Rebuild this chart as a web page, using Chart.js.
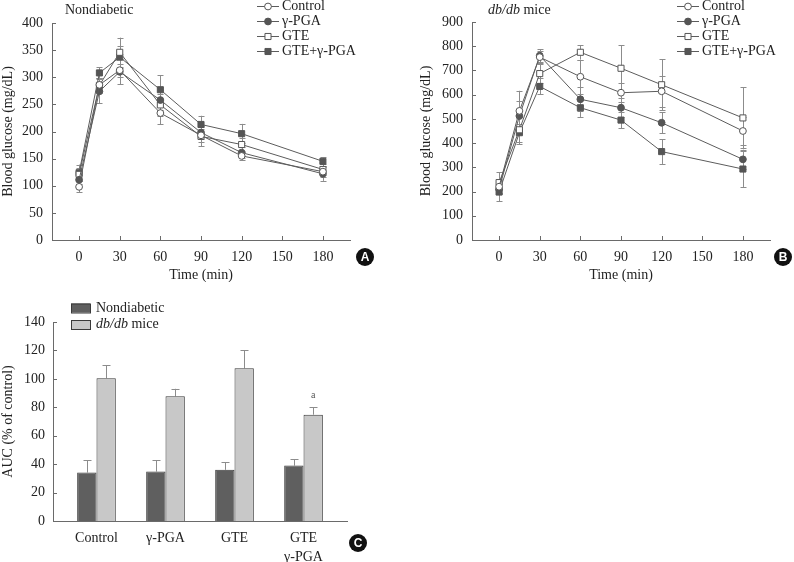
<!DOCTYPE html>
<html>
<head>
<meta charset="utf-8">
<script src="https://cdn.jsdelivr.net/npm/chart.js@4.4.0/dist/chart.umd.min.js"></script>
<style>
  body { margin: 0; background: #fff; }
  #wrap { position: relative; width: 794px; height: 562px; overflow: hidden; }
  canvas { position: absolute; }
  .badge {
    position: absolute; width: 18px; height: 18px; border-radius: 50%;
    background: #111; color: #fff; font: bold 12px 'Liberation Sans', Arial, sans-serif;
    text-align: center; line-height: 18px;
  }
</style>
</head>
<body>
<div id="wrap">
  <canvas id="chartA" width="400" height="282" style="left:0;top:0"></canvas>
  <canvas id="chartB" width="394" height="282" style="left:400px;top:0"></canvas>
  <canvas id="chartC" width="400" height="280" style="left:0;top:282px"></canvas>
  <div class="badge" style="left:356px;top:248px">A</div>
  <div class="badge" style="left:774px;top:248px">B</div>
  <div class="badge" style="left:349px;top:534px">C</div>
</div>
<script>
// time points and series names shared by panels A and B
const timePoints = [0, 15, 30, 60, 90, 120, 180];
const timeTicks = [0, 30, 60, 90, 120, 150, 180];
const seriesNames = ['Control', 'γ-PGA', 'GTE', 'GTE+γ-PGA'];

// A: nondiabetic mice, blood glucose (mg/dL)
const ndControl = [98, 286, 313, 234, 193, 155, 126];
const ndPga = [111, 274, 310, 258, 198, 161, 122];
const ndGte = [121, 285, 346, 249, 191, 176, 130];
const ndGtePga = [124, 308, 337, 277, 213, 196, 145];
const ndControlErr = [10, 12, 12, 21, 12, 8, 10];
const ndPgaErr = [8, 22, 23, 18, 12, 10, 13];
const ndGteErr = [12, 14, 27, 20, 18, 12, 10];
const ndGtePgaErr = [15, 10, 20, 27, 16, 18, 8];

// B: db/db mice, blood glucose (mg/dL)
const dbControl = [220, 533, 755, 674, 608, 614, 450];
const dbPga = [210, 512, 761, 581, 546, 484, 333];
const dbGte = [237, 455, 687, 775, 709, 641, 504];
const dbGtePga = [198, 443, 634, 546, 495, 365, 293];
const dbControlErr = [25, 83, 25, 70, 40, 63, 58];
const dbPgaErr = [20, 60, 27, 50, 40, 44, 40];
const dbGteErr = [42, 60, 40, 30, 96, 105, 126];
const dbGtePgaErr = [37, 37, 33, 38, 33, 51, 74];

// C: AUC (% of control)
const aucGroups = ['Control', 'γ-PGA', 'GTE', ['GTE', 'γ-PGA']];
const aucNondiabetic = [34.1, 34.8, 36.0, 39.0];
const aucNondiabeticErr = [8.5, 7.8, 5.2, 4.3];
const aucDbdb = [100.5, 87.8, 107.5, 74.8];
const aucDbdbErr = [9, 5.2, 12.7, 5.2];
const sigMarks = [{ dataset: 1, index: 3, text: 'a' }];

const serif = "'Liberation Serif', 'DejaVu Serif', serif";
const axisColor = '#6a6a6a';
const textColor = '#222';
const lineColor = '#5c5c5c';
const markColor = '#555';
const errColor = '#8c8c8c';
const tickFont = { family: serif, size: 14 };

// error bars, drawn under the markers
const errorBars = {
  id: 'errorBars',
  beforeDatasetsDraw(chart) {
    const ctx = chart.ctx;
    const yScale = chart.scales.y;
    ctx.save();
    ctx.strokeStyle = errColor;
    ctx.lineWidth = 1;
    chart.data.datasets.forEach((ds, di) => {
      if (!ds.errors) return;
      const meta = chart.getDatasetMeta(di);
      meta.data.forEach((el, i) => {
        const v = ds.data[i].y !== undefined ? ds.data[i].y : ds.data[i];
        const e = ds.errors[i];
        const x = Math.round(el.x) + 0.5;
        const top = yScale.getPixelForValue(v + e);
        const bot = ds.errorUpOnly ? yScale.getPixelForValue(v) : yScale.getPixelForValue(v - e);
        const cap = ds.errorCap || 3;
        ctx.beginPath();
        ctx.moveTo(x, top); ctx.lineTo(x, bot);
        ctx.moveTo(x - cap, Math.round(top) + 0.5); ctx.lineTo(x + cap, Math.round(top) + 0.5);
        if (!ds.errorUpOnly) {
          ctx.moveTo(x - cap, Math.round(bot) + 0.5); ctx.lineTo(x + cap, Math.round(bot) + 0.5);
        }
        ctx.stroke();
      });
    });
    ctx.restore();
  }
};

// tick marks pointing into the plot
const innerTicks = {
  id: 'innerTicks',
  afterDraw(chart, args, opts) {
    const ctx = chart.ctx;
    const a = chart.chartArea;
    ctx.save();
    ctx.strokeStyle = axisColor;
    ctx.lineWidth = 1;
    ctx.beginPath();
    if (opts.y) {
      chart.scales.y.ticks.forEach(t => {
        const py = Math.round(chart.scales.y.getPixelForValue(t.value)) + 0.5;
        ctx.moveTo(a.left, py); ctx.lineTo(a.left + 4, py);
      });
    }
    if (opts.x) {
      chart.scales.x.ticks.forEach(t => {
        const px = Math.round(chart.scales.x.getPixelForValue(t.value)) + 0.5;
        ctx.moveTo(px, a.bottom); ctx.lineTo(px, a.bottom - 4);
      });
    }
    ctx.stroke();
    ctx.restore();
  }
};

function drawMarker(ctx, ds, x, y) {
  ctx.fillStyle = ds.pointBackgroundColor;
  ctx.strokeStyle = ds.pointBorderColor;
  ctx.lineWidth = 1;
  ctx.beginPath();
  if (ds.pointStyle === 'rect') {
    const s = ds.pointRadius * Math.SQRT2 / 2;
    ctx.rect(x - s, y - s, s * 2, s * 2);
  } else {
    ctx.arc(x, y, ds.pointRadius, 0, Math.PI * 2);
  }
  ctx.fill();
  ctx.stroke();
}

// legend with a line through each marker, plus the panel label
const sideLegend = {
  id: 'sideLegend',
  afterDraw(chart, args, opts) {
    const ctx = chart.ctx;
    ctx.save();
    ctx.font = '14px ' + serif;
    ctx.textBaseline = 'middle';
    chart.data.datasets.forEach((ds, i) => {
      const y = opts.y + i * opts.dy;
      if (opts.boxes) {
        ctx.fillStyle = ds.backgroundColor;
        ctx.strokeStyle = ds.borderColor;
        ctx.lineWidth = 1;
        ctx.fillRect(opts.x, y - 4.5, 19, 9);
        ctx.strokeRect(opts.x + 0.5, y - 4, 19, 9);
      } else {
        ctx.strokeStyle = lineColor;
        ctx.lineWidth = 1;
        ctx.beginPath();
        ctx.moveTo(opts.x, y + 0.5); ctx.lineTo(opts.x + 22, y + 0.5);
        ctx.stroke();
        drawMarker(ctx, ds, opts.x + 11, y + 0.5);
      }
      ctx.fillStyle = textColor;
      drawRich(ctx, ds.legendParts || [[ds.label, false]], opts.x + opts.textDx, y);
    });
    if (opts.title) drawRich(ctx, opts.title, opts.titleX, opts.titleY);
    (opts.marks || []).forEach(m => {
      const el = chart.getDatasetMeta(m.dataset).data[m.index];
      const ds = chart.data.datasets[m.dataset];
      const top = chart.scales.y.getPixelForValue(ds.data[m.index].y + ds.errors[m.index]);
      ctx.font = '10px ' + serif;
      ctx.fillStyle = '#555';
      ctx.textAlign = 'center';
      ctx.fillText(m.text, el.x, top - 12);
    });
    ctx.restore();
  }
};

function drawRich(ctx, parts, x, y) {
  ctx.fillStyle = textColor;
  ctx.textAlign = 'left';
  parts.forEach(([txt, italic]) => {
    ctx.font = (italic ? 'italic ' : '') + '14px ' + serif;
    ctx.fillText(txt, x, y);
    x += ctx.measureText(txt).width;
  });
}

function lineDatasets(values, errors) {
  const styles = [
    { pointStyle: 'circle', pointRadius: 3.4, pointBackgroundColor: '#fff' },
    { pointStyle: 'circle', pointRadius: 3.4, pointBackgroundColor: markColor },
    { pointStyle: 'rect', pointRadius: 4.3, pointBackgroundColor: '#fff' },
    { pointStyle: 'rect', pointRadius: 4.3, pointBackgroundColor: markColor }
  ];
  return values.map((vals, i) => Object.assign({
    label: seriesNames[i],
    data: vals.map((v, j) => ({ x: timePoints[j], y: v })),
    errors: errors[i],
    borderColor: lineColor,
    borderWidth: 1,
    pointBorderColor: markColor,
    pointBorderWidth: 1
  }, styles[i]));
}

function lineOptions(yMax, yStep, pad, yWidth, legendOpts) {
  return {
    responsive: false,
    animation: false,
    layout: { padding: pad },
    plugins: { legend: { display: false }, tooltip: { enabled: false }, innerTicks: { x: true, y: true }, sideLegend: legendOpts },
    scales: {
      x: {
        type: 'linear', min: -20, max: 200,
        afterBuildTicks: s => { s.ticks = timeTicks.map(v => ({ value: v })); },
        afterFit: s => { s.height = 42; },
        grid: { display: false, drawTicks: false },
        border: { color: axisColor },
        ticks: { padding: 9, font: tickFont, color: textColor },
        title: { display: true, text: 'Time (min)', font: tickFont, color: textColor, padding: { top: 0, bottom: -2 } }
      },
      y: {
        min: 0, max: yMax,
        afterFit: s => { s.width = yWidth; },
        grid: { display: false, drawTicks: false },
        border: { color: axisColor },
        ticks: { stepSize: yStep, padding: 9, font: tickFont, color: textColor },
        title: { display: true, text: 'Blood glucose (mg/dL)', font: tickFont, color: textColor, padding: 0 }
      }
    }
  };
}

new Chart(document.getElementById('chartA'), {
  type: 'line',
  data: { datasets: lineDatasets([ndControl, ndPga, ndGte, ndGtePga], [ndControlErr, ndPgaErr, ndGteErr, ndGtePgaErr]) },
  options: lineOptions(400, 50, { top: 23, right: 50, left: 0 }, 52, {
    x: 257, y: 6, dy: 15, textDx: 25,
    title: [['Nondiabetic', false]], titleX: 65, titleY: 10
  }),
  plugins: [errorBars, innerTicks, sideLegend]
});

new Chart(document.getElementById('chartB'), {
  type: 'line',
  data: { datasets: lineDatasets([dbControl, dbPga, dbGte, dbGtePga], [dbControlErr, dbPgaErr, dbGteErr, dbGtePgaErr]) },
  options: lineOptions(900, 100, { top: 22, right: 24, left: 18 }, 54, {
    x: 277, y: 6, dy: 15, textDx: 25,
    title: [['db/db', true], [' mice', false]], titleX: 88, titleY: 10
  }),
  plugins: [errorBars, innerTicks, sideLegend]
});

new Chart(document.getElementById('chartC'), {
  type: 'bar',
  data: {
    datasets: [
      {
        label: 'Nondiabetic',
        data: aucNondiabetic.map((v, i) => ({ x: i + 1, y: v })),
        errors: aucNondiabeticErr, errorUpOnly: true, errorCap: 4,
        backgroundColor: '#5f5f5f', borderColor: '#3a3a3a', borderWidth: 1,
        categoryPercentage: 0.56, barPercentage: 1
      },
      {
        label: 'db/db mice',
        legendParts: [['db/db', true], [' mice', false]],
        data: aucDbdb.map((v, i) => ({ x: i + 1, y: v })),
        errors: aucDbdbErr, errorUpOnly: true, errorCap: 4,
        backgroundColor: '#c8c8c8', borderColor: '#3a3a3a', borderWidth: 1,
        categoryPercentage: 0.56, barPercentage: 1
      }
    ]
  },
  options: {
    responsive: false,
    animation: false,
    layout: { padding: { top: 40, right: 53, left: 0 } },
    plugins: {
      legend: { display: false }, tooltip: { enabled: false },
      innerTicks: { y: true },
      sideLegend: { boxes: true, x: 71, y: 26, dy: 16.5, textDx: 25, marks: sigMarks }
    },
    scales: {
      x: {
        type: 'linear', min: 0.37, max: 4.63, offset: false,
        afterBuildTicks: s => { s.ticks = aucGroups.map((g, i) => ({ value: i + 1 })); },
        afterFit: s => { s.height = 41; },
        grid: { display: false, drawTicks: false, offset: false },
        border: { color: axisColor },
        ticks: { padding: 8, font: Object.assign({ lineHeight: 1.35 }, tickFont), color: textColor, callback: v => aucGroups[v - 1] }
      },
      y: {
        min: 0, max: 140,
        afterFit: s => { s.width = 53; },
        grid: { display: false, drawTicks: false },
        border: { color: axisColor },
        ticks: { stepSize: 20, padding: 8, font: tickFont, color: textColor },
        title: { display: true, text: 'AUC (% of control)', font: tickFont, color: textColor, padding: 0 }
      }
    }
  },
  plugins: [errorBars, innerTicks, sideLegend]
});
</script>
</body>
</html>
